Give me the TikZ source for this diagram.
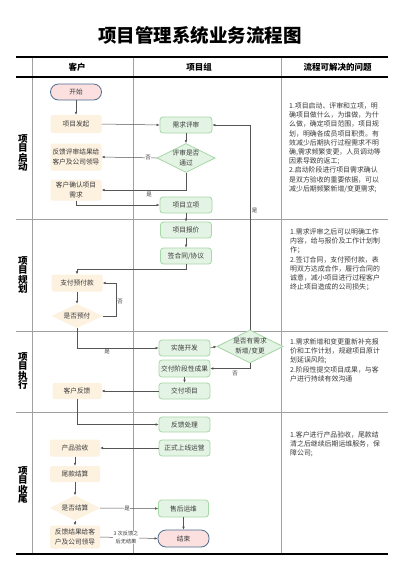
\documentclass[tikz,border=0pt]{standalone}
\usepackage{fontspec}
\setmainfont{Noto Sans CJK SC}
\usetikzlibrary{shapes.geometric,arrows.meta}
\definecolor{cbeige}{HTML}{FDF1E0}
\definecolor{cgreenf}{HTML}{E4F4E4}
\definecolor{cgreend}{HTML}{A6D7A6}
\definecolor{cpink}{HTML}{FCE0E0}
\definecolor{cblue}{HTML}{4E6E8E}
\definecolor{cline}{HTML}{555555}
\definecolor{cgrid}{HTML}{A0A0A0}
\definecolor{ctext}{HTML}{3A3A3A}
\newcommand\myboxfs{\fontsize{6.7}{9.5}\selectfont}
\newcommand\mynotefs{\fontsize{6.9}{9.2}\selectfont}
\begin{document}
\begin{tikzpicture}[x=1pt,y=-1pt,
  cbox/.style={fill=cbeige, rounded corners=2pt, minimum width=51pt, minimum height=17pt, inner sep=0pt, align=center, font=\myboxfs, text=ctext},
  gbox/.style={fill=cgreenf, draw=cgreend, line width=0.8pt, rounded corners=3pt, minimum width=51pt, minimum height=16pt, inner sep=0pt, align=center, font=\myboxfs, text=ctext},
  cdia/.style={diamond, aspect=2, fill=cbeige, inner sep=0pt, align=center, font=\myboxfs, text=ctext},
  gdia/.style={diamond, aspect=2, fill=cgreenf, draw=cgreend, line width=0.8pt, inner sep=0pt, align=center, font=\myboxfs, text=ctext},
  pill/.style={fill=cpink, draw=cblue, line width=0.8pt, rounded corners=8pt, minimum width=51pt, minimum height=16pt, inner sep=0pt, font=\myboxfs, text=ctext},
  arr/.style={draw=cline, line width=0.5pt, -{Latex[length=3pt,width=2.6pt]}},
  lbl/.style={font=\fontsize{5.5}{6.5}\selectfont, fill=white, inner sep=0.5pt, text=ctext, align=center},
  grid/.style={draw=cgrid, line width=0.7pt},
  rule/.style={draw=black, line width=1.4pt},
  hdr/.style={font=\fontsize{8.5}{10}\selectfont\bfseries, text=black},
  sect/.style={font=\fontsize{9.6}{9.4}\selectfont\bfseries, align=center, text=black, inner sep=0pt},
  note/.style={font=\mynotefs, align=left, anchor=north west, inner sep=0pt, text=ctext}
]
\useasboundingbox (0,0) rectangle (400,566);
\fill[white] (0,0) rectangle (400,566);

% title
\node[font=\fontsize{18.5}{20}\selectfont\bfseries] (title) at (200,35) {项目管理系统业务流程图};

% table
\draw[grid] (32,57) -- (32,554);
\draw[grid] (133,57) -- (133,554);
\draw[grid] (281,57) -- (281,554);
\draw[grid] (16,219) -- (388,219);
\draw[grid] (16,331) -- (388,331);
\draw[grid] (16,412) -- (388,412);
\draw[rule] (16,57) -- (388,57);
\draw[draw=black, line width=1.1pt] (16,77) -- (388,77);
\draw[rule] (16,554) -- (388,554);

\node[hdr] (h1) at (77,67.5) {客户};
\node[hdr] (h2) at (199,67.5) {项目组};
\node[hdr] (h3) at (337.5,67.5) {流程可解决的问题};

\node[sect] (s1) at (23,153) {项\\目\\启\\动};
\node[sect] (s2) at (23,275) {项\\目\\规\\划};
\node[sect] (s3) at (23,371) {项\\目\\执\\行};
\node[sect] (s4) at (23,485) {项\\目\\收\\尾};

% notes
\node[note] (n1) at (289,102.5) {1.项目启动、评审和立项，明\\确项目做什么，为谁做，为什\\么做，确定项目范围，项目规\\划，明确各成员项目职责。有\\效减少后期执行过程需求不明\\确,需求频繁变更，人员调动等\\因素导致的返工;\\2.启动阶段进行项目需求确认\\是双方验收的重要依据，可以\\减少后期频繁新增/变更需求;};
\node[note] (n2) at (290,228.5) {1.需求评审之后可以明确工作\\内容，给与报价及工作计划制\\作；\\2.签订合同，支付预付款，表\\明双方达成合作，履行合同的\\诚意，减小项目进行过程客户\\终止项目造成的公司损失；};
\node[note] (n3) at (290,338.5) {1.需求新增和变更重新补充报\\价和工作计划，规避项目原计\\划延误风险;\\2.阶段性提交项目成果，与客\\户进行持续有效沟通};
\node[note] (n4) at (290,431.5) {1.客户进行产品验收，尾款结\\清之后继续后期运维服务，保\\障公司;};

% customer column
\node[pill] (start) at (76,92) {开始};
\node[cbox, minimum height=18pt] (faqi) at (76,124) {项目发起};
\node[cbox, minimum height=27pt] (fk1) at (76,157) {反馈评审结果给\\客户及公司领导};
\node[cbox, minimum height=21pt] (queren) at (76,190) {客户确认项目\\需求};
\node[cbox] (zhifu) at (77,283) {支付预付款};
\node[cdia, minimum width=51pt, minimum height=24pt] (yufu) at (77,316) {是否预付};
\node[cbox, minimum width=49pt, minimum height=16pt] (kehufk) at (77,391) {客户反馈};
\node[cbox, minimum width=50pt] (yanshou) at (75,448) {产品验收};
\node[cbox, minimum width=50pt, minimum height=16pt] (weikuan) at (75,474) {尾款结算};
\node[cdia, minimum width=50pt, minimum height=25pt] (jiesuan) at (75,508) {是否结算};
\node[cbox, minimum width=50pt, minimum height=23pt] (fk2) at (75,537) {反馈结果给客\\户及公司领导};

% project group column
\node[gbox, minimum width=52pt] (pingshen) at (186,125) {需求评审};
\node[gdia, minimum width=52pt, minimum height=28pt] (tongguo) at (186,158) {评审是否\\通过};
\node[gbox, minimum width=52pt] (lixiang) at (186,205) {项目立项};
\node[gbox] (baojia) at (186,230) {项目报价};
\node[gbox] (hetong) at (186,256) {签合同/协议};
\node[gbox] (shishi) at (184.5,348) {实施开发};
\node[gdia, minimum width=53pt, minimum height=23pt] (xinzeng) at (250,346.5) {是否有需求\\新增/变更};
\node[gbox, minimum height=17pt] (jieduan) at (184.5,368.5) {交付阶段性成果};
\node[gbox] (jiaofu) at (184.5,391) {交付项目};
\node[gbox, minimum height=15pt] (fkcl) at (184.5,424.5) {反馈处理};
\node[gbox] (shangxian) at (184.5,448) {正式上线运营};
\node[gbox, minimum width=50pt, minimum height=17pt] (shouhou) at (183.5,508.5) {售后运维};
\node[pill, minimum height=17pt] (end) at (183.5,538.5) {结束};

% connectors
\draw[arr] (start) -- (faqi);
\draw[arr] (faqi.east) -- (pingshen.west);
\draw[arr] (pingshen) -- (tongguo);
\draw[arr] (tongguo.west) -- (fk1.east);
\node[lbl] (l1) at (148,158) {否};
\draw[arr] (tongguo.south) |- (queren.east);
\node[lbl] (l2) at (149,194.5) {是};
\draw[arr] (queren.south) |- (lixiang.west);
\draw[arr] (lixiang) -- (baojia);
\draw[arr] (baojia) -- (hetong);
\draw[arr] (hetong.south) -- ++(0,5) -| (zhifu.north);
\draw[arr] (zhifu) -- (yufu);
\draw[arr] (yufu.east) -- ++(13.5,0) |- (zhifu.east);
\node[lbl] (l3) at (120,302) {否};
\draw[arr] (yufu.south) |- (shishi.west);
\node[lbl] (l4) at (107,352) {是};
\draw[arr] (shishi.east) -- (xinzeng.west);
\draw[arr] (xinzeng.south) |- (jieduan.east);
\node[lbl] (l5) at (235,373.5) {否};
\draw[arr] (xinzeng.north) |- (pingshen.east);
\node[lbl] (l6) at (254.5,211) {是};
\draw[arr] (jieduan) -- (jiaofu);
\draw[arr] (jiaofu.west) -- (kehufk.east);
\draw[arr] (kehufk.south) |- (fkcl.west);
\draw[arr] (shangxian.west) -- (yanshou.east);
\draw[arr] (yanshou) -- (weikuan);
\draw[arr] (weikuan) -- (jiesuan);
\draw[arr] (jiesuan.east) -- (shouhou.west);
\node[lbl] (l7) at (127,508.5) {是};
\draw[arr] (shouhou) -- (end);
\draw[arr] (jiesuan) -- (fk2);
\draw[arr] (fk2.east) -- (end.west);
\node[lbl, font=\fontsize{5.2}{8}\selectfont] (l8) at (126,537.5) {3 次反馈之\\后无结果};
\end{tikzpicture}
\end{document}
